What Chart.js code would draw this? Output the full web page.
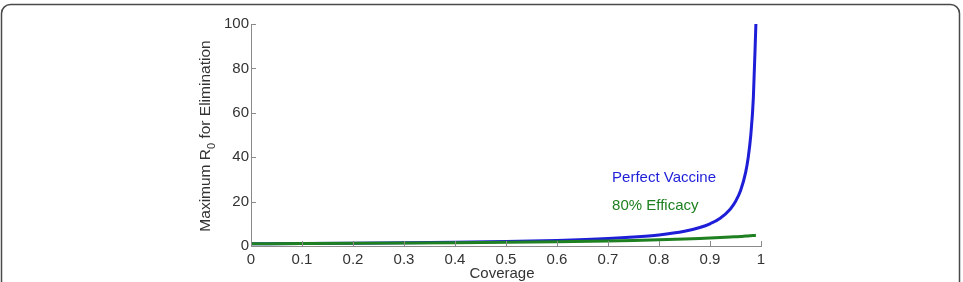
<!DOCTYPE html>
<html>
<head>
<meta charset="utf-8">
<script src="https://cdn.jsdelivr.net/npm/chart.js@4"></script>
<style>
  html, body { margin: 0; padding: 0; background: #fff; overflow: hidden; }
  #wrap { position: relative; width: 963px; height: 282px; }
</style>
</head>
<body>
<div id="wrap"><canvas id="r0Chart" width="963" height="282"></canvas></div>
<script>
// coverage values (x) and max R0
const coverage = [0, 0.1, 0.2, 0.3, 0.4, 0.5, 0.6, 0.7, 0.75, 0.8, 0.85, 0.88, 0.9, 0.92, 0.94, 0.95, 0.96, 0.97, 0.975, 0.98, 0.985, 0.99];
const perfectVaccine = [1, 1.11, 1.25, 1.43, 1.67, 2, 2.5, 3.33, 4, 5, 6.67, 8.33, 10, 12.5, 16.7, 20, 25, 33.3, 40, 50, 66.7, 100];
const efficacy80 = [1, 1.09, 1.19, 1.32, 1.47, 1.67, 1.92, 2.27, 2.5, 2.78, 3.13, 3.38, 3.57, 3.79, 4.03, 4.17, 4.31, 4.46, 4.55, 4.63, 4.72, 4.81];
const xTicks = [0, 0.1, 0.2, 0.3, 0.4, 0.5, 0.6, 0.7, 0.8, 0.9, 1];
const yTicks = [0, 20, 40, 60, 80, 100];
const seriesNames = ['Perfect Vaccine', '80% Efficacy'];

const BLUE = '#1e1ed8';
const GREEN = '#1e8020';
const AXIS = '#8a8a8a';
const TEXT = '#333';
const FONT = '"Liberation Sans", Arial, sans-serif';

function toPoints(ys) {
  return coverage.map((x, i) => ({ x: x, y: ys[i] }));
}

// frame, inward ticks, titles and the inline labels
const extras = {
  id: 'extras',
  beforeDraw(chart) {
    const c = chart.ctx;
    c.save();
    c.fillStyle = '#fff';
    c.fillRect(0, 0, chart.width, chart.height);
    c.strokeStyle = '#4a4a4a';
    c.lineWidth = 1.5;
    c.beginPath();
    c.roundRect(1.5, 4.5, 958, 300, 9);
    c.stroke();
    c.restore();
  },
  afterDraw(chart) {
    const c = chart.ctx;
    const xs = chart.scales.x, ys = chart.scales.y;
    const area = chart.chartArea;
    c.save();
    c.strokeStyle = AXIS;
    c.lineWidth = 1;
    xTicks.forEach(v => {
      const px = Math.round(xs.getPixelForValue(v)) + 0.5;
      c.beginPath();
      c.moveTo(px, area.bottom);
      c.lineTo(px, area.bottom - 5);
      c.stroke();
    });
    yTicks.forEach(v => {
      const py = Math.round(ys.getPixelForValue(v)) + 0.5;
      c.beginPath();
      c.moveTo(area.left, py);
      c.lineTo(area.left + 5, py);
      c.stroke();
    });

    // x title
    c.fillStyle = TEXT;
    c.font = '15px ' + FONT;
    c.textAlign = 'center';
    c.textBaseline = 'middle';
    c.fillText('Coverage', (area.left + area.right) / 2 - 4, 274);

    // y title with subscript
    c.translate(206, (area.top + area.bottom) / 2 + 1);
    c.rotate(-Math.PI / 2);
    const p1 = 'Maximum R', sub = '0', p2 = ' for Elimination';
    c.font = '15.5px ' + FONT;
    const w1 = c.measureText(p1).width, w3 = c.measureText(p2).width;
    c.font = '11px ' + FONT;
    const w2 = c.measureText(sub).width;
    let x0 = -(w1 + w2 + w3) / 2;
    c.textAlign = 'left';
    c.font = '15.5px ' + FONT;
    c.fillText(p1, x0, 0);
    c.font = '11px ' + FONT;
    c.fillText(sub, x0 + w1, 6);
    c.font = '15.5px ' + FONT;
    c.fillText(p2, x0 + w1 + w2, 0);
    c.setTransform(1, 0, 0, 1, 0, 0);

    // inline series labels
    c.textAlign = 'left';
    c.font = '15px ' + FONT;
    c.fillStyle = BLUE;
    c.fillText(seriesNames[0], xs.getPixelForValue(0.708), ys.getPixelForValue(30.6));
    c.fillStyle = GREEN;
    c.fillText(seriesNames[1], xs.getPixelForValue(0.708), ys.getPixelForValue(18));
    c.restore();
  }
};

const ctx = document.getElementById('r0Chart').getContext('2d');
new Chart(ctx, {
  type: 'line',
  data: {
    datasets: [
      {
        label: seriesNames[1],
        data: toPoints(efficacy80),
        borderColor: GREEN,
        borderWidth: 3,
        pointRadius: 0,
        fill: false,
        cubicInterpolationMode: 'monotone'
      },
      {
        label: seriesNames[0],
        data: toPoints(perfectVaccine),
        borderColor: BLUE,
        borderWidth: 3,
        pointRadius: 0,
        fill: false,
        cubicInterpolationMode: 'monotone'
      }
    ]
  },
  options: {
    responsive: false,
    animation: false,
    layout: { padding: { top: 24, right: 202, left: 0, bottom: 0 } },
    plugins: { legend: { display: false }, tooltip: { enabled: false } },
    scales: {
      x: {
        type: 'linear',
        min: 0,
        max: 1,
        afterFit: s => { s.height = 36; },
        afterBuildTicks: s => { s.ticks = xTicks.map(v => ({ value: v })); },
        grid: { display: false, drawTicks: false },
        border: { display: true, color: AXIS, width: 1 },
        ticks: {
          color: TEXT,
          padding: 5,
          maxRotation: 0,
          font: { family: FONT, size: 15 },
          callback: v => String(v)
        }
      },
      y: {
        type: 'linear',
        min: 0,
        max: 100,
        afterFit: s => { s.width = 251; },
        afterBuildTicks: s => { s.ticks = yTicks.map(v => ({ value: v })); },
        grid: { display: false, drawTicks: false },
        border: { display: true, color: AXIS, width: 1 },
        ticks: {
          color: TEXT,
          padding: 2,
          font: { family: FONT, size: 15 }
        }
      }
    }
  },
  plugins: [extras]
});
</script>
</body>
</html>
